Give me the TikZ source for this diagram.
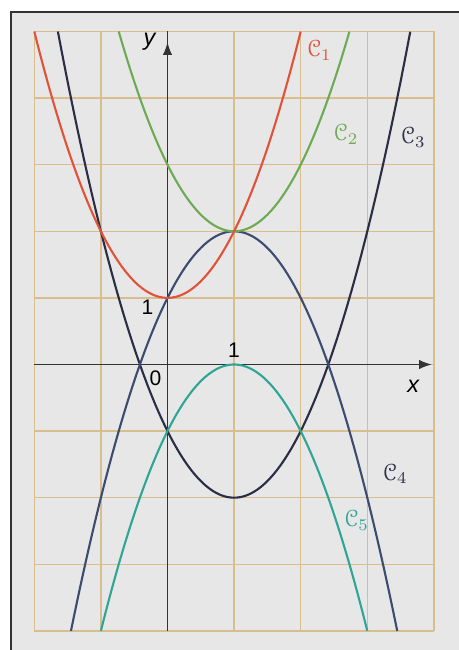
\documentclass[tikz,border=0pt]{standalone}
\usepackage{fontspec}
\setsansfont{Liberation Sans}
\usepackage[mathcal]{eucal}
\usepackage{xcolor}
\definecolor{PaperGray}{HTML}{E7E7E7}
\definecolor{GridTan}{HTML}{D8BE8E}
\definecolor{AxisGray}{HTML}{333333}
\definecolor{CurveRed}{HTML}{E0523A}
\definecolor{CurveGreen}{HTML}{6EAA55}
\definecolor{CurveNavy}{HTML}{2B2D45}
\definecolor{CurveSlate}{HTML}{3C4C70}
\definecolor{CurveTeal}{HTML}{2FA596}
\usetikzlibrary{arrows.meta}

\begin{document}
\begin{tikzpicture}[
  gridline/.style={draw=GridTan, line width=0.6pt},
  axis/.style={draw=AxisGray, line width=0.7pt},
  axistip/.style={-{Latex[length=1.9mm,width=1.4mm]}},
  curve/.style={line width=0.9pt, samples=80, smooth},
  tick/.style={font=\sffamily\fontsize{9}{10}\selectfont, text=black, inner sep=1pt},
  curvelbl/.style={font=\normalsize, inner sep=1pt},
]
  \useasboundingbox (-2.515,-4.287) rectangle (4.377,5.473);
  % paper and frame
  \fill[PaperGray] (-2.35,-4.287) rectangle (4.377,5.293);
  \draw[axis] (-2.35,-4.287) -- (-2.35,5.293) -- (4.377,5.293);

  % grid
  \foreach \gx in {-2,...,4}
    \draw[gridline] (\gx,-4) -- (\gx,5);
  \foreach \gy in {-4,...,5}
    \draw[gridline] (-2,\gy) -- (4,\gy);

  % axes
  \draw[axis, axistip] (-2,0) -- (3.97,0);
  \draw[axis] (0,-4) -- (0,5);
  \draw[axis, axistip] (0,4.5) -- (0,4.84);

  % curves
  \draw[curve, CurveNavy]  plot[domain=-1.6458:3.6458] (\x,{(\x-1)*(\x-1)-2});
  \draw[curve, CurveSlate] plot[domain=-1.4495:3.4495] (\x,{2-(\x-1)*(\x-1)});
  \draw[curve, CurveTeal]  plot[domain=-1:3] (\x,{-(\x-1)*(\x-1)});
  \draw[curve, CurveGreen] plot[domain=-0.7321:2.7321] (\x,{(\x-1)*(\x-1)+2});
  \draw[curve, CurveRed]   plot[domain=-2:2] (\x,{\x*\x+1});

  % axis labels
  \node[tick, font=\sffamily\itshape\fontsize{10}{11}\selectfont] (ylbl) at (-0.27,4.84) {y};
  \node[tick, font=\sffamily\itshape\fontsize{10}{11}\selectfont] (xlbl) at (3.69,-0.33) {x};
  \node[tick] (yone) at (-0.3,0.86) {1};
  \node[tick] (xone) at (1.0,0.22) {1};
  \node[tick] (zero) at (-0.18,-0.21) {0};

  % curve labels
  \node[curvelbl, text=CurveRed]   (c1) at (2.28,4.72) {$\mathcal{C}_1$};
  \node[curvelbl, text=CurveGreen] (c2) at (2.68,3.46) {$\mathcal{C}_2$};
  \node[curvelbl, text=CurveNavy]  (c3) at (3.69,3.41) {$\mathcal{C}_3$};
  \node[curvelbl, text=CurveNavy]  (c4) at (3.42,-1.64) {$\mathcal{C}_4$};
  \node[curvelbl, text=CurveTeal]  (c5) at (2.84,-2.34) {$\mathcal{C}_5$};
\end{tikzpicture}
\end{document}
